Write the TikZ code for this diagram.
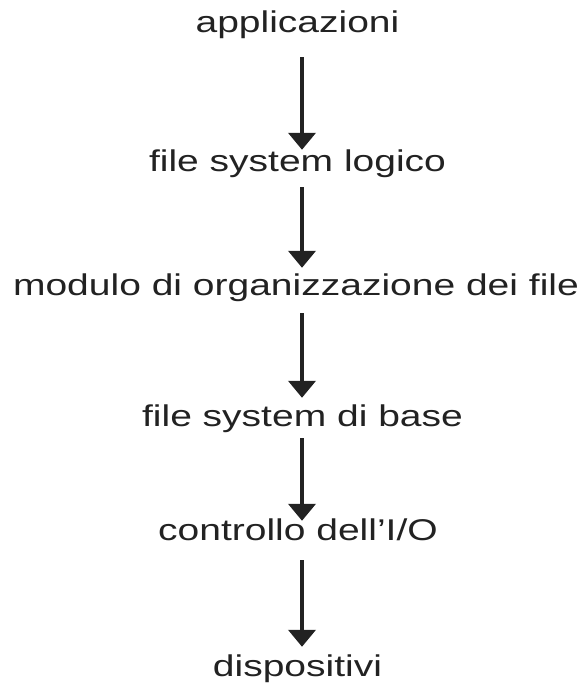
\documentclass[tikz,border=0pt]{standalone}
\usepackage{fontspec}
\usetikzlibrary{arrows.meta}
\newfontfamily\layerfont[FakeStretch=1.3]{Liberation Sans}
\definecolor{ink}{HTML}{222222}
\begin{document}
\begin{tikzpicture}[x=1pt,y=1pt,
  layer/.style={anchor=base, inner sep=0pt, text height=20pt, text depth=6pt,
    text=ink, font=\layerfont\fontsize{30pt}{34pt}\selectfont},
  flow/.style={draw=ink, line width=4pt,
    -{Triangle[width=27pt,length=17pt]}}]
\useasboundingbox (0,0) rectangle (584,683);
% column of the arrows
\coordinate (col) at (302,0);
% the layers, top to bottom
\node[layer] (app)  at (297.5,650)   {applicazioni};
\node[layer] (lfs)  at (297.5,511.3) {file system logico};
\node[layer] (org)  at (296,387)     {modulo di organizzazione dei file};
\node[layer] (bfs)  at (302.5,256.3) {file system di base};
\node[layer] (io)   at (298,142)     {controllo dell’I/O};
\node[layer] (dev)  at (297.5,6.3)   {dispositivi};
% arrows between consecutive layers
\draw[flow, shorten <=18pt, shorten >=1.7pt] (app.south -| col) -- (lfs.north -| col);
\draw[flow, shorten <=9.3pt, shorten >=8pt]  (lfs.south -| col) -- (org.north -| col);
\draw[flow, shorten <=11pt,  shorten >=8.7pt] (org.south -| col) -- (bfs.north -| col);
\draw[flow, shorten <=5.3pt, shorten >=0pt]  (bfs.south -| col) -- (io.north -| col);
\draw[flow, shorten <=13pt,  shorten >=9.7pt] (io.south -| col) -- (dev.north -| col);
\end{tikzpicture}
\end{document}
